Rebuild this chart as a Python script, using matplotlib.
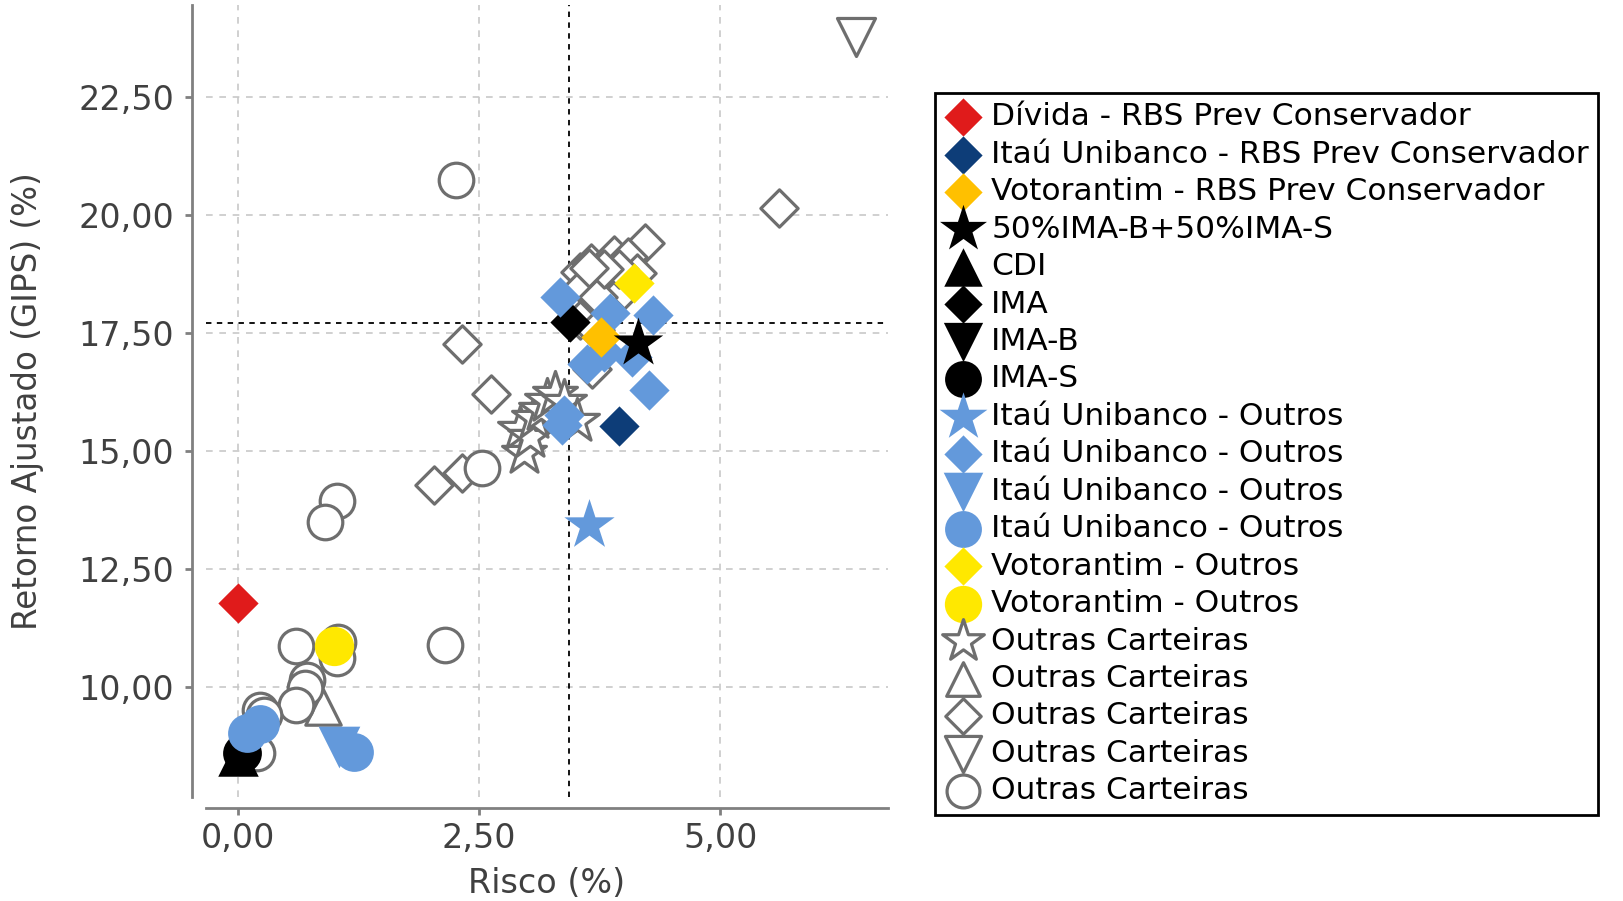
import numpy as np
import matplotlib.pyplot as plt
from matplotlib.ticker import FuncFormatter

plt.rcParams['font.family'] = ['DejaVu Sans']

# risco (x) e retorno ajustado (y) por grupo
divida_x = [0.00]; divida_y = [11.76]
itau_rbs_x = [3.95]; itau_rbs_y = [15.52]
voto_rbs_x = [3.77]; voto_rbs_y = [17.40]
bench5050_x = [4.15]; bench5050_y = [17.27]
cdi_x = [0.00]; cdi_y = [8.52]
ima_x = [3.44]; ima_y = [17.72]
imab_x = [0.04]; imab_y = [8.59]
imas_x = [0.04]; imas_y = [8.59]

itau_star_x = [3.64]; itau_star_y = [13.42]
itau_diam_x = [3.34, 3.86, 4.30, 4.09, 4.26, 3.62, 3.80, 3.38, 3.36]
itau_diam_y = [18.26, 17.91, 17.87, 16.98, 16.29, 16.83, 17.08, 15.75, 15.55]
itau_tri_x = [1.05]; itau_tri_y = [8.72]
itau_circ_x = [1.20, 0.10, 0.23]
itau_circ_y = [8.61, 9.02, 9.20]
voto_diam_x = [4.11]; voto_diam_y = [18.55]
voto_circ_x = [1.00]; voto_circ_y = [10.86]

outras_star_x = [2.97, 2.93, 3.03, 3.07, 3.14, 3.21, 3.29, 3.38, 3.52]
outras_star_y = [14.95, 15.45, 15.28, 15.70, 15.86, 16.05, 16.20, 16.02, 15.62]
outras_tri_x = [0.88]; outras_tri_y = [9.57]
outras_diam_x = [5.61, 2.32, 2.63, 2.03, 2.32, 4.22, 3.55, 3.66, 3.90, 4.04, 3.83, 4.00,
                 3.58, 4.14, 3.73, 3.67, 3.55, 3.70, 3.95, 3.80, 3.64]
outras_diam_y = [20.14, 17.26, 16.20, 14.28, 14.52, 19.40, 18.78, 18.97, 19.14, 19.10, 18.61, 18.40,
                 18.49, 18.76, 18.26, 16.72, 17.77, 17.55, 18.85, 18.85, 18.86]
outras_dtri_x = [6.41]; outras_dtri_y = [23.76]
outras_circ_x = [2.26, 1.03, 0.90, 2.53, 2.15, 0.60, 1.04, 1.03, 0.72, 0.70, 0.60, 0.23, 0.27, 0.20]
outras_circ_y = [20.73, 13.93, 13.48, 14.64, 10.87, 10.86, 10.95, 10.61, 10.14, 9.97, 9.61, 9.51, 9.40, 8.59]

risco_medio = 3.43
retorno_medio = 17.71

xticks = [0, 2.5, 5]
yticks = [10, 12.5, 15, 17.5, 20, 22.5]

red = '#e01b1b'; dblue = '#0d3d78'; gold = '#ffc000'; lblue = '#6399db'; yellow = '#ffe800'
gray = '#6e6e6e'

fig = plt.figure(figsize=(16.23, 9.01), dpi=100)
ax = fig.add_axes([206/1623, 1-797/901, (888-206)/1623, (797-5)/901])

hollow = dict(facecolors='white', edgecolors=gray, linewidths=2.3, zorder=2)
h_os = ax.scatter(outras_star_x, outras_star_y, marker='*', s=1100, **hollow)
h_ot = ax.scatter(outras_tri_x, outras_tri_y, marker='^', s=650, **hollow)
h_od = ax.scatter(outras_diam_x, outras_diam_y, marker='D', s=360, **hollow)
h_odt = ax.scatter(outras_dtri_x, outras_dtri_y, marker='v', s=750, **hollow)
h_oc = ax.scatter(outras_circ_x, outras_circ_y, marker='o', s=620, **hollow)

filled = dict(linewidths=0, zorder=3)
h_div = ax.scatter(divida_x, divida_y, marker='D', s=420, c=red, **filled)
h_irbs = ax.scatter(itau_rbs_x, itau_rbs_y, marker='D', s=420, c=dblue, **filled)
h_vrbs = ax.scatter(voto_rbs_x, voto_rbs_y, marker='D', s=420, c=gold, **filled)
h_b = ax.scatter(bench5050_x, bench5050_y, marker='*', s=1400, c='black', **filled)
h_cdi = ax.scatter(cdi_x, cdi_y, marker='^', s=850, c='black', **filled)
h_ima = ax.scatter(ima_x, ima_y, marker='D', s=420, c='black', **filled)
h_imab = ax.scatter(imab_x, imab_y, marker='v', s=400, c='black', **filled)
h_imas = ax.scatter(imas_x, imas_y, marker='o', s=780, c='black', **filled)
h_is = ax.scatter(itau_star_x, itau_star_y, marker='*', s=1450, c=lblue, **filled)
h_id = ax.scatter(itau_diam_x, itau_diam_y, marker='D', s=420, c=lblue, **filled)
h_it = ax.scatter(itau_tri_x, itau_tri_y, marker='v', s=900, c=lblue, **filled)
h_ic = ax.scatter(itau_circ_x, itau_circ_y, marker='o', s=780, c=lblue, **filled)
h_vd = ax.scatter(voto_diam_x, voto_diam_y, marker='D', s=420, c=yellow, **filled)
h_vc = ax.scatter(voto_circ_x, voto_circ_y, marker='o', s=800, c=yellow, **filled)
# IMA-B fica por baixo do IMA-S; Votorantim RBS e benchmark por cima dos azuis
h_imab.set_zorder(2.9)
h_cdi.set_zorder(2.8)
h_vrbs.set_zorder(3.5)
h_b.set_zorder(3.5)

ax.axvline(risco_medio, color='black', lw=1.3, ls=(0, (3, 3)), zorder=1.5)
ax.axhline(retorno_medio, color='black', lw=1.3, ls=(0, (3, 3)), zorder=1.5)

ax.set_xlim(-0.329, 6.74)
ax.set_ylim(7.66, 24.44)
ax.set_xticks(xticks); ax.set_yticks(yticks)
fmt = FuncFormatter(lambda v, p: f"{v:.2f}".replace('.', ','))
ax.xaxis.set_major_formatter(fmt); ax.yaxis.set_major_formatter(fmt)
ax.grid(True, color='#c8c8c8', lw=1.2, ls=(0, (4, 4)), zorder=0)
ax.set_axisbelow(True)

for s in ['top', 'right']:
    ax.spines[s].set_visible(False)
ax.spines['left'].set_position(('outward', 10))
ax.spines['bottom'].set_position(('outward', 8))
for s in ['left', 'bottom']:
    ax.spines[s].set_color('#808080'); ax.spines[s].set_linewidth(2)
ax.tick_params(axis='both', length=5, width=2, color='#808080', labelsize=24, labelcolor='#404040')
ax.tick_params(axis='x', pad=5)
ax.tick_params(axis='y', pad=8)
ax.set_xlabel('Risco (%)', fontsize=24, color='#404040')
ax.set_ylabel('Retorno Ajustado (GIPS) (%)', fontsize=23.5, color='#404040')
ax.xaxis.set_label_coords(0.5, -0.109)
ax.xaxis.label.set_va('center')
ax.yaxis.set_label_coords(-0.262, 0.5)
ax.yaxis.label.set_va('center')

handles = [h_div, h_irbs, h_vrbs, h_b, h_cdi, h_ima, h_imab, h_imas, h_is, h_id, h_it, h_ic,
           h_vd, h_vc, h_os, h_ot, h_od, h_odt, h_oc]
labels = ['Dívida - RBS Prev Conservador', 'Itaú Unibanco - RBS Prev Conservador',
          'Votorantim - RBS Prev Conservador', '50%IMA-B+50%IMA-S', 'CDI', 'IMA', 'IMA-B', 'IMA-S',
          'Itaú Unibanco - Outros', 'Itaú Unibanco - Outros', 'Itaú Unibanco - Outros',
          'Itaú Unibanco - Outros', 'Votorantim - Outros', 'Votorantim - Outros',
          'Outras Carteiras', 'Outras Carteiras', 'Outras Carteiras', 'Outras Carteiras',
          'Outras Carteiras']
leg = fig.legend(handles, labels, loc='upper left', bbox_to_anchor=(935/1623, 1-93/901),
                 fontsize=22.5, frameon=True, fancybox=False, framealpha=1, edgecolor='black',
                 borderaxespad=0, labelspacing=0.27, handletextpad=0.3, borderpad=0.3,
                 handlelength=1.2, scatterpoints=1, markerscale=0.95)
leg.get_frame().set_linewidth(2)
leg.legend_handles[6].set_sizes([800])
leg.set_zorder(5)

fig.savefig('out.png', dpi=100)
